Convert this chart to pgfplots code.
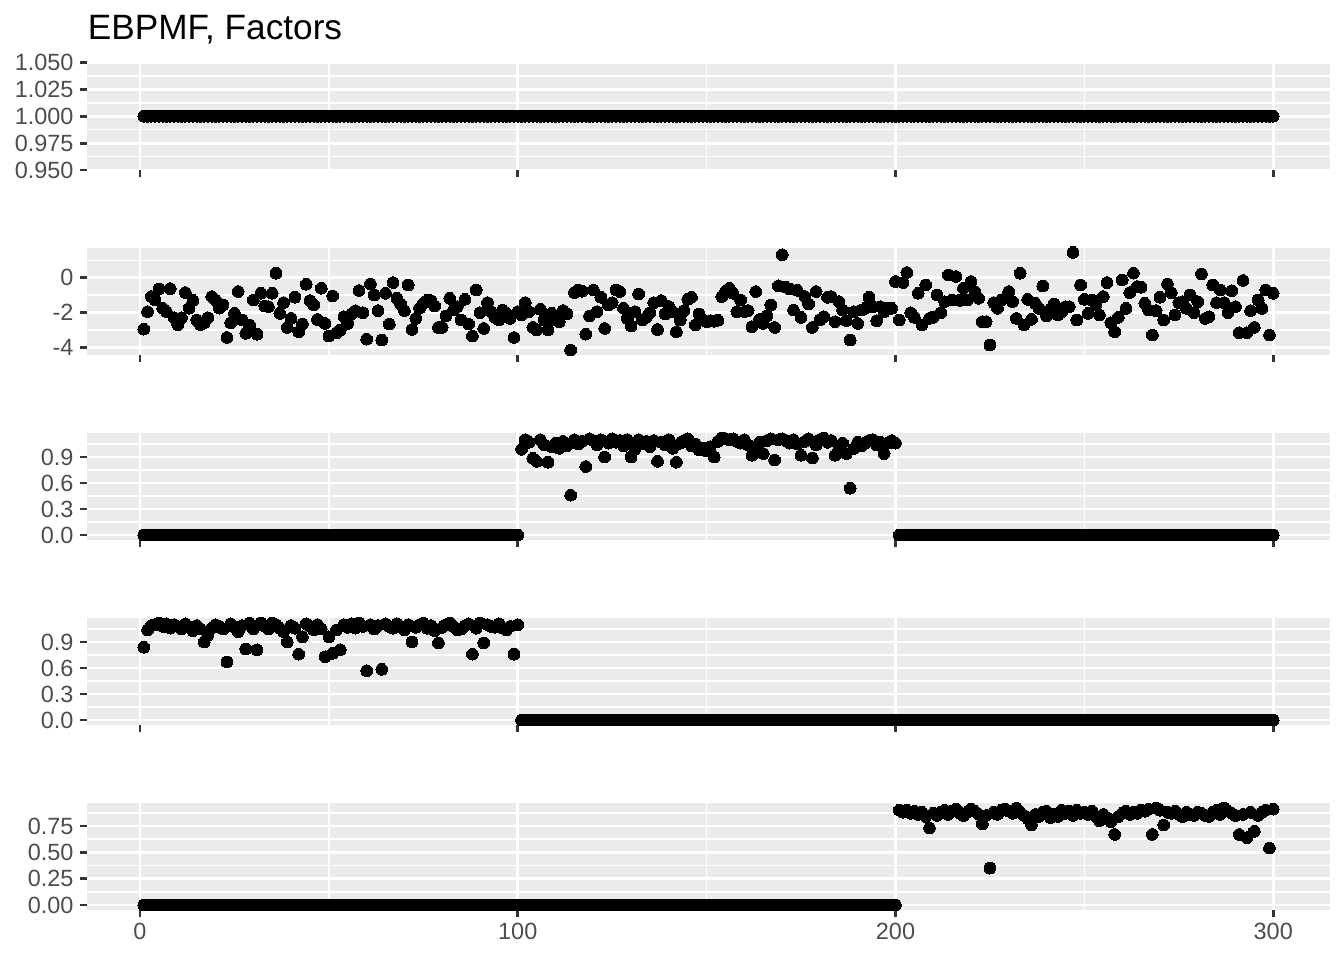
\documentclass[border=0pt]{standalone}
\usepackage{pgfplots}
\usepackage{pgfplotstable}
\pgfplotsset{compat=1.18}
\usepackage{fontspec}
\setmainfont{Liberation Sans}
\definecolor{gg92}{HTML}{EBEBEB}
\definecolor{gg30}{HTML}{4D4D4D}
\definecolor{gg20}{HTML}{333333}
\pgfplotstableread{
x f1 f2 f3 f4 f5
1 1 -2.96 0 0.84 0
2 1 -1.95 0 1.04 0
3 1 -1.08 0 1.09 0
4 1 -1.28 0 1.10 0
5 1 -0.64 0 1.12 0
6 1 -1.75 0 1.08 0
7 1 -1.95 0 1.11 0
8 1 -0.62 0 1.06 0
9 1 -2.30 0 1.10 0
10 1 -2.70 0 1.08 0
11 1 -2.30 0 1.05 0
12 1 -0.85 0 1.11 0
13 1 -1.75 0 1.07 0
14 1 -1.30 0 1.03 0
15 1 -2.43 0 1.09 0
16 1 -2.70 0 1.05 0
17 1 -2.60 0 0.90 0
18 1 -2.30 0 0.98 0
19 1 -1.08 0 1.06 0
20 1 -1.28 0 1.10 0
21 1 -1.75 0 1.08 0
22 1 -1.56 0 1.05 0
23 1 -3.44 0 0.67 0
24 1 -2.59 0 1.11 0
25 1 -2.05 0 1.07 0
26 1 -0.79 0 1.02 0
27 1 -2.43 0 1.09 0
28 1 -3.20 0 0.82 0
29 1 -2.72 0 1.12 0
30 1 -1.28 0 1.05 0
31 1 -3.25 0 0.81 0
32 1 -0.89 0 1.12 0
33 1 -1.62 0 1.08 0
34 1 -1.66 0 1.05 0
35 1 -0.89 0 1.12 0
36 1 0.27 0 1.10 0
37 1 -2.05 0 1.06 0
38 1 -1.43 0 1.02 0
39 1 -2.86 0 0.90 0
40 1 -2.34 0 1.09 0
41 1 -1.12 0 1.06 0
42 1 -3.11 0 0.76 0
43 1 -2.67 0 0.96 0
44 1 -0.37 0 1.11 0
45 1 -1.31 0 1.08 0
46 1 -1.56 0 1.04 0
47 1 -2.40 0 1.10 0
48 1 -0.60 0 1.05 0
49 1 -2.63 0 0.73 0
50 1 -3.36 0 0.96 0
51 1 -1.04 0 0.77 0
52 1 -3.17 0 1.04 0
53 1 -3.01 0 0.81 0
54 1 -2.24 0 1.10 0
55 1 -2.63 0 1.07 0
56 1 -2.09 0 1.11 0
57 1 -1.90 0 1.06 0
58 1 -0.73 0 1.12 0
59 1 -2.01 0 1.08 0
60 1 -3.54 0 0.57 0
61 1 -0.35 0 1.10 0
62 1 -0.99 0 1.05 0
63 1 -1.89 0 1.09 0
64 1 -3.59 0 0.585 0
65 1 -0.89 0 1.11 0
66 1 -2.67 0 1.08 0
67 1 -0.27 0 1.06 0
68 1 -1.18 0 1.11 0
69 1 -1.51 0 1.08 0
70 1 -1.89 0 1.04 0
71 1 -0.41 0 1.10 0
72 1 -2.98 0 0.90 0
73 1 -2.34 0 1.07 0
74 1 -1.76 0 1.10 0
75 1 -1.47 0 1.12 0
76 1 -1.30 0 1.06 0
77 1 -1.31 0 1.09 0
78 1 -1.62 0 1.03 0
79 1 -2.86 0 0.89 0
80 1 -2.86 0 1.07 0
81 1 -2.20 0 1.10 0
82 1 -1.18 0 1.12 0
83 1 -1.86 0 1.08 0
84 1 -1.66 0 1.04 0
85 1 -2.43 0 1.05 0
86 1 -1.24 0 1.09 0
87 1 -2.67 0 1.11 0
88 1 -3.36 0 0.76 0
89 1 -0.70 0 1.06 0
90 1 -2.01 0 1.12 0
91 1 -2.92 0 0.89 0
92 1 -1.43 0 1.10 0
93 1 -1.95 0 1.08 0
94 1 -2.28 0 1.07 0
95 1 -2.43 0 1.11 0
96 1 -1.86 0 1.06 0
97 1 -2.05 0 1.04 0
98 1 -2.34 0 1.08 0
99 1 -3.44 0 0.76 0
100 1 -1.95 0 1.10 0
101 1 -2.14 0.99 0 0
102 1 -1.43 1.10 0 0
103 1 -1.95 1.07 0 0
104 1 -2.86 0.885 0 0
105 1 -3.01 0.85 0 0
106 1 -1.82 1.10 0 0
107 1 -2.43 1.04 0 0
108 1 -3.01 0.84 0 0
109 1 -2.05 1.02 0 0
110 1 -2.43 1.06 0 0
111 1 -2.53 1.00 0 0
112 1 -1.89 1.08 0 0
113 1 -2.09 1.03 0 0
114 1 -4.17 0.46 0 0
115 1 -0.85 1.10 0 0
116 1 -0.70 1.05 0 0
117 1 -0.77 1.08 0 0
118 1 -3.25 0.79 0 0
119 1 -2.20 1.11 0 0
120 1 -0.70 1.09 0 0
121 1 -1.95 1.04 0 0
122 1 -1.12 1.10 0 0
123 1 -2.92 0.90 0 0
124 1 -1.56 1.06 0 0
125 1 -1.43 1.11 0 0
126 1 -0.70 1.07 0 0
127 1 -0.79 1.09 0 0
128 1 -1.76 1.03 0 0
129 1 -2.34 1.10 0 0
130 1 -2.78 0.90 0 0
131 1 -1.95 0.99 0 0
132 1 -0.93 1.10 0 0
133 1 -2.43 1.05 0 0
134 1 -2.28 1.08 0 0
135 1 -2.01 1.02 0 0
136 1 -1.43 1.09 0 0
137 1 -2.98 0.85 0 0
138 1 -1.31 1.07 0 0
139 1 -2.09 1.04 0 0
140 1 -1.66 1.10 0 0
141 1 -1.95 1.00 0 0
142 1 -3.11 0.84 0 0
143 1 -2.43 1.06 0 0
144 1 -1.89 1.09 0 0
145 1 -1.24 1.11 0 0
146 1 -1.12 1.03 0 0
147 1 -2.72 1.05 0 0
148 1 -2.09 0.98 0 0
149 1 -2.40 1.00 0 0
150 1 -2.53 0.97 0 0
151 1 -2.47 1.02 0 0
152 1 -2.50 0.90 0 0
153 1 -2.45 1.08 0 0
154 1 -1.08 1.12 0 0
155 1 -0.79 1.11 0 0
156 1 -0.60 1.10 0 0
157 1 -0.89 1.11 0 0
158 1 -1.95 1.08 0 0
159 1 -1.28 1.06 0 0
160 1 -1.95 1.10 0 0
161 1 -1.89 1.04 0 0
162 1 -2.82 0.92 0 0
163 1 -0.79 1.00 0 0
164 1 -2.40 1.07 0 0
165 1 -2.63 0.94 0 0
166 1 -2.20 1.09 0 0
167 1 -1.56 1.11 0 0
168 1 -2.86 0.865 0 0
169 1 -0.46 1.10 0 0
170 1 1.33 1.11 0 0
171 1 -0.54 1.09 0 0
172 1 -0.64 1.06 0 0
173 1 -1.86 1.10 0 0
174 1 -0.72 1.05 0 0
175 1 -2.28 0.92 0 0
176 1 -1.08 1.08 0 0
177 1 -1.51 1.11 0 0
178 1 -2.86 0.89 0 0
179 1 -0.79 1.04 0 0
180 1 -2.43 1.10 0 0
181 1 -2.24 1.12 0 0
182 1 -1.12 1.07 0 0
183 1 -1.08 1.09 0 0
184 1 -2.53 0.92 0 0
185 1 -1.37 1.03 0 0
186 1 -1.86 1.06 0 0
187 1 -2.47 0.94 0 0
188 1 -3.59 0.54 0 0
189 1 -1.95 1.00 0 0
190 1 -2.63 1.07 0 0
191 1 -1.86 1.03 0 0
192 1 -1.76 1.06 0 0
193 1 -1.12 1.09 0 0
194 1 -1.66 1.10 0 0
195 1 -2.47 1.04 0 0
196 1 -1.66 1.07 0 0
197 1 -1.95 0.94 0 0
198 1 -1.76 1.06 0 0
199 1 -1.76 1.09 0 0
200 1 -0.21 1.06 0 0
201 1 -2.43 0 0 0.90
202 1 -0.27 0 0 0.88
203 1 0.31 0 0 0.90
204 1 -2.01 0 0 0.87
205 1 -2.28 0 0 0.89
206 1 -0.89 0 0 0.86
207 1 -2.72 0 0 0.88
208 1 -0.41 0 0 0.84
209 1 -2.34 0 0 0.73
210 1 -2.28 0 0 0.87
211 1 -0.99 0 0 0.85
212 1 -2.01 0 0 0.88
213 1 -1.37 0 0 0.90
214 1 0.17 0 0 0.86
215 1 -1.28 0 0 0.89
216 1 0.08 0 0 0.91
217 1 -1.30 0 0 0.87
218 1 -0.60 0 0 0.85
219 1 -1.28 0 0 0.88
220 1 -0.21 0 0 0.91
221 1 -0.79 0 0 0.89
222 1 -1.18 0 0 0.86
223 1 -2.53 0 0 0.77
224 1 -2.53 0 0 0.85
225 1 -3.88 0 0 0.35
226 1 -1.43 0 0 0.88
227 1 -1.76 0 0 0.86
228 1 -1.28 0 0 0.90
229 1 -1.18 0 0 0.91
230 1 -0.79 0 0 0.89
231 1 -1.37 0 0 0.87
232 1 -2.34 0 0 0.92
233 1 0.27 0 0 0.88
234 1 -2.72 0 0 0.85
235 1 -1.24 0 0 0.82
236 1 -2.39 0 0 0.76
237 1 -1.47 0 0 0.86
238 1 -1.76 0 0 0.84
239 1 -0.47 0 0 0.88
240 1 -2.20 0 0 0.89
241 1 -1.80 0 0 0.83
242 1 -1.51 0 0 0.86
243 1 -2.14 0 0 0.84
244 1 -1.95 0 0 0.90
245 1 -1.66 0 0 0.87
246 1 -1.66 0 0 0.89
247 1 1.47 0 0 0.85
248 1 -2.43 0 0 0.90
249 1 -0.41 0 0 0.87
250 1 -1.24 0 0 0.88
251 1 -2.05 0 0 0.86
252 1 -1.28 0 0 0.89
253 1 -1.56 0 0 0.84
254 1 -2.14 0 0 0.80
255 1 -1.08 0 0 0.86
256 1 -0.27 0 0 0.83
257 1 -2.59 0 0 0.79
258 1 -3.11 0 0 0.67
259 1 -2.28 0 0 0.84
260 1 -0.12 0 0 0.87
261 1 -1.76 0 0 0.89
262 1 -0.85 0 0 0.86
263 1 0.27 0 0 0.88
264 1 -0.50 0 0 0.87
265 1 -0.54 0 0 0.90
266 1 -1.47 0 0 0.89
267 1 -1.86 0 0 0.91
268 1 -3.30 0 0 0.67
269 1 -1.89 0 0 0.92
270 1 -1.12 0 0 0.90
271 1 -2.43 0 0 0.76
272 1 -0.35 0 0 0.88
273 1 -0.85 0 0 0.87
274 1 -2.14 0 0 0.89
275 1 -1.43 0 0 0.86
276 1 -1.37 0 0 0.84
277 1 -1.76 0 0 0.88
278 1 -0.99 0 0 0.86
279 1 -2.01 0 0 0.85
280 1 -1.37 0 0 0.88
281 1 0.23 0 0 0.87
282 1 -2.34 0 0 0.85
283 1 -2.24 0 0 0.84
284 1 -0.41 0 0 0.88
285 1 -1.43 0 0 0.90
286 1 -0.70 0 0 0.86
287 1 -1.43 0 0 0.92
288 1 -2.01 0 0 0.89
289 1 -0.74 0 0 0.87
290 1 -1.66 0 0 0.85
291 1 -3.17 0 0 0.67
292 1 -0.15 0 0 0.86
293 1 -3.17 0 0 0.64
294 1 -1.89 0 0 0.88
295 1 -2.86 0 0 0.70
296 1 -1.28 0 0 0.85
297 1 -1.76 0 0 0.88
298 1 -0.70 0 0 0.90
299 1 -3.30 0 0 0.54
300 1 -0.89 0 0 0.91
}\data
\pgfplotsset{
  panel/.style={
    scale only axis, width=465.9pt, height=40.31pt, anchor=south west,
    xmin=-13.95, xmax=314.95,
    xtick={0,100,200,300}, minor xtick={50,150,250},
    axis background/.style={fill=gg92},
    axis line style={draw=none},
    grid=both,
    major grid style={white, line width=1.07pt},
    minor grid style={white, line width=0.53pt},
    tick align=outside, xtick pos=left, ytick pos=left,
    major tick length=2.75pt, minor tick length=0pt,
    tick style={gg20, line width=1.07pt},
    tick label style={font=\fontsize{8.8}{10}\selectfont, text=gg30},
    yticklabel style={xshift=1.1pt},
    xticklabel style={yshift=1.5pt},
    xticklabels={},
    clip=false,
  },
  pts/.style={only marks, mark=*, mark size=2.2pt, black, mark options={line width=0pt, fill=black, draw=black}},
}
\begin{document}
\begin{tikzpicture}
\useasboundingbox (0,0) rectangle (504pt,360pt);
\node[anchor=base west, inner sep=0pt, font=\fontsize{13.2}{15}\selectfont] at (32.74pt,345pt) {EBPMF, Factors};
\begin{axis}[panel, at={(32.74pt,296.25pt)}, ymin=0.95, ymax=1.05,
  ytick={0.95,0.975,1,1.025,1.05}, yticklabels={0.950,0.975,1.000,1.025,1.050},
  minor ytick={0.9625,0.9875,1.0125,1.0375}]
\addplot[pts] table[x=x, y=f1] {\data};
\end{axis}
\begin{axis}[panel, at={(32.74pt,226.875pt)}, ymin=-4.452, ymax=1.752,
  ytick={-4,-2,0}, yticklabels={-4,-2,0}, minor ytick={-3,-1,1}]
\addplot[pts] table[x=x, y=f2] {\data};
\end{axis}
\begin{axis}[panel, at={(32.74pt,157.5pt)}, ymin=-0.057, ymax=1.183,
  ytick={0,0.3,0.6,0.9}, yticklabels={0.0,0.3,0.6,0.9}, minor ytick={0.15,0.45,0.75,1.05}]
\addplot[pts] table[x=x, y=f3] {\data};
\end{axis}
\begin{axis}[panel, at={(32.74pt,88.125pt)}, ymin=-0.057, ymax=1.183,
  ytick={0,0.3,0.6,0.9}, yticklabels={0.0,0.3,0.6,0.9}, minor ytick={0.15,0.45,0.75,1.05}]
\addplot[pts] table[x=x, y=f4] {\data};
\end{axis}
\begin{axis}[panel, at={(32.74pt,18.75pt)}, ymin=-0.0475, ymax=0.973,
  ytick={0,0.25,0.5,0.75}, yticklabels={0.00,0.25,0.50,0.75}, minor ytick={0.125,0.375,0.625,0.875},
  xticklabels={0,100,200,300}]
\addplot[pts] table[x=x, y=f5] {\data};
\end{axis}
\end{tikzpicture}
\end{document}
